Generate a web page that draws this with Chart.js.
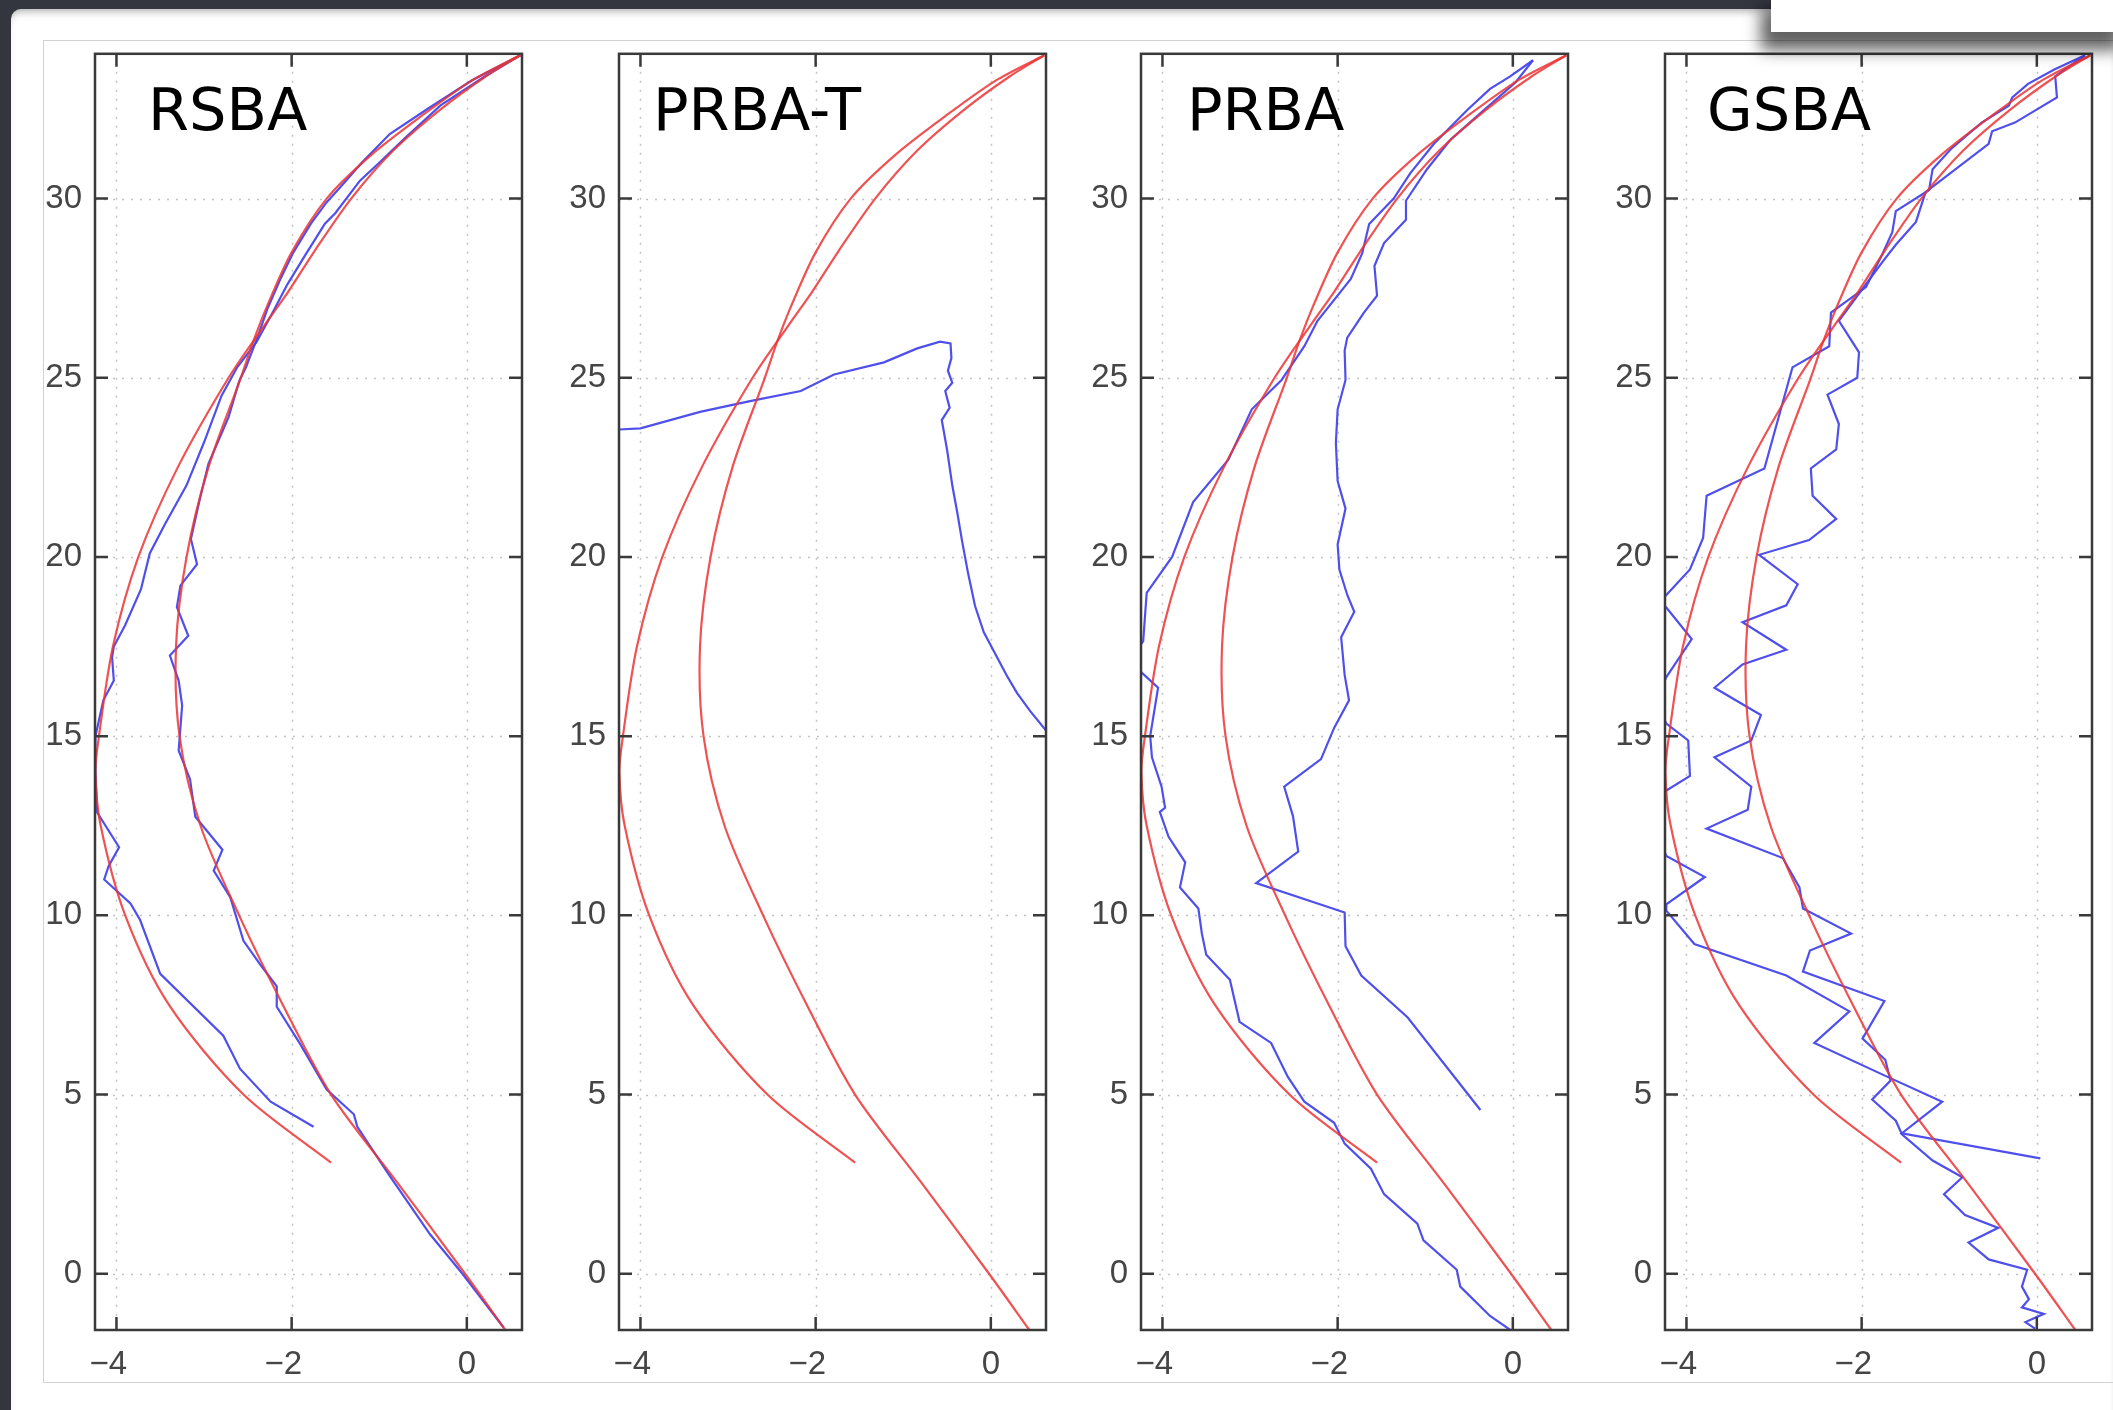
<!DOCTYPE html>
<html>
<head>
<meta charset="utf-8">
<script src="https://cdn.jsdelivr.net/npm/chart.js@4.4.1/dist/chart.umd.min.js"></script>
<style>
  html, body { margin: 0; padding: 0; }
  body { width: 2113px; height: 1410px; background: #33363e; position: relative; overflow: hidden; }
  #slide { position: absolute; left: 11px; top: 9px; right: 0; bottom: 0; background: #fff;
           border-top-left-radius: 10px; box-shadow: inset 0 7px 8px -5px rgba(0,0,0,0.35); }
  #frame { position: absolute; left: 43px; top: 40px; width: 2075px; height: 1343px;
           border: 1px solid #d2d2d2; box-sizing: border-box; }
  .panel { position: absolute; top: 21px; }
  #popup { position: absolute; left: 1771px; top: -10px; width: 360px; height: 42px; background: #fff;
           box-shadow: -10px 18px 16px rgba(0,0,0,0.62); z-index: 5; }
</style>
</head>
<body>
<div id="slide"></div>
<div id="frame"></div>
<canvas id="c0" class="panel" width="527" height="1379" style="left:15px"></canvas>
<canvas id="c1" class="panel" width="527" height="1379" style="left:539px"></canvas>
<canvas id="c2" class="panel" width="527" height="1379" style="left:1061px"></canvas>
<canvas id="c3" class="panel" width="527" height="1379" style="left:1585px"></canvas>
<div id="popup"></div>
<script>
// axes
const xTicks = [-4, -2, 0];
const yTicks = [0, 5, 10, 15, 20, 25, 30];
const xLimits = [-4.245, 0.63];
const yLimits = [-1.57, 34.04];

const panelTitles = ['RSBA', 'PRBA-T', 'PRBA', 'GSBA'];

// model curves (same in every panel)
const redInnerY = [34, 33.3, 32.3, 31.2, 30, 28.5, 27, 26, 25, 22.5, 20, 17.5, 15, 12.5, 10, 7.5, 5, 2.5, 0, -1.57];
const redInnerX = [0.61, 0.06, -0.52, -1.1, -1.6, -2.0, -2.28, -2.44, -2.58, -2.95, -3.2, -3.32, -3.28, -3.04, -2.6, -2.1, -1.55, -0.78, -0.02, 0.44];
const redOuterY = [34, 33.4, 32.47, 31.34, 30, 28.53, 27.4, 26.5, 25, 22.5, 20, 17.5, 15, 14, 12.5, 10, 7.5, 5, 3.1];
const redOuterX = [0.61, 0.21, -0.31, -0.84, -1.32, -1.74, -2.04, -2.3, -2.72, -3.3, -3.75, -4.04, -4.2, -4.24, -4.18, -3.9, -3.4, -2.55, -1.55];

// RSBA measured
const rsbaBlue1X = [0.61, 0.06, -0.45, -0.88, -1.2, -1.45, -1.6, -1.78, -1.98, -2.12, -2.28, -2.38, -2.52, -2.6, -2.72, -2.95, -3.05, -3.15, -3.08, -3.27, -3.31, -3.18, -3.39, -3.29, -3.25, -3.29, -3.16, -3.1, -2.79, -2.89, -2.7, -2.55, -2.35, -2.17, -2.17, -1.9, -1.6, -1.29, -1.25, -0.9, -0.42, -0.05, 0.42];
const rsbaBlue1Y = [34, 33.3, 32.5, 31.8, 31.0, 30.3, 29.9, 29.3, 28.5, 27.8, 26.9, 26.2, 25.3, 24.9, 23.9, 22.6, 21.6, 20.5, 19.8, 19.2, 18.6, 17.8, 17.25, 16.55, 15.86, 14.6, 13.8, 12.75, 11.83, 11.25, 10.5, 9.29, 8.6, 8.02, 7.45, 6.4, 5.14, 4.45, 4.1, 2.8, 1.1, 0.0, -1.5];
const rsbaBlue2X = [0.61, 0.2, -0.3, -0.7, -1.0, -1.22, -1.5, -1.62, -1.85, -2.05, -2.2, -2.4, -2.62, -2.8, -3.0, -3.2, -3.45, -3.62, -3.72, -3.9, -4.03, -4.05, -4.03, -4.15, -4.24, -4.24, -4.22, -3.97, -4.09, -4.14, -3.84, -3.73, -3.5, -2.78, -2.59, -2.24, -1.75];
const rsbaBlue2Y = [34, 33.4, 32.6, 31.7, 31.0, 30.5, 29.6, 29.3, 28.4, 27.6, 26.9, 26.0, 25.3, 24.5, 23.2, 22.0, 20.9, 20.1, 19.1, 18.1, 17.5, 17.2, 16.55, 16.0, 15.0, 14.0, 12.87, 11.9, 11.37, 11.0, 10.33, 9.87, 8.37, 6.64, 5.72, 4.8, 4.1];

// PRBA-T measured
const prbaTBlueX = [-4.3, -4.0, -3.32, -2.75, -2.17, -1.79, -1.22, -0.84, -0.58, -0.46, -0.45, -0.49, -0.44, -0.52, -0.47, -0.56, -0.5, -0.44, -0.38, -0.33, -0.26, -0.18, -0.08, 0.05, 0.18, 0.3, 0.45, 0.65];
const prbaTBlueY = [23.55, 23.59, 24.05, 24.35, 24.63, 25.09, 25.43, 25.82, 26.01, 25.96, 25.55, 25.2, 24.86, 24.63, 24.16, 23.82, 23.0, 22.0, 21.2, 20.47, 19.55, 18.63, 17.9, 17.3, 16.7, 16.2, 15.7, 15.1];

// PRBA measured
const prbaBlue1X = [0.23, -0.03, -0.26, -0.52, -0.9, -1.17, -1.36, -1.64, -1.72, -1.85, -2.23, -2.38, -2.64, -2.98, -3.25, -3.65, -3.89, -4.18, -4.22, -4.35, -4.25, -4.05, -4.14, -4.12, -4.01, -3.97, -4.03, -3.93, -3.74, -3.8, -3.59, -3.55, -3.5, -3.23, -3.12, -2.76, -2.57, -2.38, -2.04, -1.92, -1.62, -1.47, -1.09, -1.02, -0.64, -0.6, -0.26, -0.01];
const prbaBlue1Y = [33.86, 33.41, 33.06, 32.47, 31.53, 30.71, 30.0, 29.29, 28.47, 27.76, 26.59, 25.88, 24.94, 24.12, 22.71, 21.53, 20.0, 19.0, 17.65, 17.2, 16.8, 16.35, 15.0, 14.41, 13.59, 13.0, 12.89, 12.19, 11.48, 10.78, 10.19, 9.49, 8.9, 8.2, 7.03, 6.44, 5.5, 4.8, 4.21, 3.63, 2.93, 2.22, 1.4, 0.93, 0.11, -0.36, -1.18, -1.6];
const prbaBlue2X = [0.23, 0.03, -0.33, -0.71, -0.98, -1.22, -1.22, -1.47, -1.58, -1.55, -1.7, -1.89, -1.92, -1.91, -2.0, -2.02, -2.0, -1.91, -2.0, -1.98, -1.89, -1.81, -1.96, -1.92, -1.87, -2.04, -2.19, -2.61, -2.51, -2.45, -2.93, -1.92, -1.91, -1.73, -1.2, -0.37];
const prbaBlue2Y = [33.86, 33.24, 32.47, 31.65, 30.82, 29.94, 29.41, 28.76, 28.12, 27.29, 26.82, 26.12, 25.76, 24.94, 24.12, 23.18, 22.12, 21.35, 20.35, 19.65, 18.94, 18.47, 17.76, 16.71, 16.0, 15.23, 14.36, 13.59, 12.77, 11.78, 10.9, 10.08, 9.14, 8.32, 7.15, 4.57];

// GSBA measured
const gsbaBlue1X = [0.55, 0.2, -0.1, -0.28, -0.32, -0.63, -0.97, -1.19, -1.23, -1.61, -1.65, -1.76, -1.95, -2.35, -2.37, -2.79, -3.11, -3.77, -3.81, -3.96, -4.23, -4.3, -4.23, -3.94, -4.23, -4.35, -4.23, -3.98, -3.96, -4.23, -4.4, -4.23, -3.79, -4.23, -4.23, -3.91, -2.86, -2.14, -2.54, -1.71, -1.08, -1.54, 0.04];
const gsbaBlue1Y = [34.0, 33.6, 33.2, 32.82, 32.59, 32.12, 31.41, 30.82, 30.24, 29.65, 29.06, 28.47, 27.53, 26.82, 25.88, 25.29, 22.47, 21.71, 20.53, 19.65, 18.94, 18.75, 18.59, 17.71, 16.65, 16.0, 15.35, 14.88, 13.89, 13.48, 12.6, 11.66, 11.07, 10.31, 10.13, 9.2, 8.32, 7.32, 6.44, 5.5, 4.8, 3.92, 3.22];
const gsbaBlue2X = [0.55, 0.21, 0.23, -0.25, -0.51, -0.55, -1.27, -1.38, -1.61, -1.76, -2.26, -2.03, -2.05, -2.39, -2.26, -2.29, -2.58, -2.56, -2.29, -2.6, -3.17, -2.73, -2.86, -3.36, -2.86, -3.36, -3.68, -3.15, -3.26, -3.68, -3.26, -3.3, -3.77, -2.9, -2.71, -2.67, -2.12, -2.59, -2.67, -1.74, -1.99, -1.73, -1.67, -1.88, -1.61, -1.54, -1.19, -0.85, -1.06, -0.82, -0.44, -0.78, -0.55, -0.11, -0.17, -0.09, -0.17, 0.08, -0.13, -0.02];
const gsbaBlue2Y = [34.0, 33.41, 32.82, 32.12, 31.88, 31.53, 30.18, 29.35, 28.71, 28.24, 26.59, 25.71, 25.0, 24.53, 23.71, 23.0, 22.47, 21.71, 21.06, 20.47, 20.06, 19.24, 18.65, 18.18, 17.41, 17.0, 16.35, 15.59, 14.88, 14.41, 13.59, 12.95, 12.42, 11.6, 10.78, 10.19, 9.49, 9.02, 8.43, 7.61, 6.56, 5.97, 5.39, 4.86, 4.27, 3.89, 3.16, 2.69, 2.22, 1.64, 1.28, 0.87, 0.4, 0.11, -0.36, -0.71, -0.94, -1.12, -1.35, -1.53];

const panelBlues = [
  [[rsbaBlue1X, rsbaBlue1Y], [rsbaBlue2X, rsbaBlue2Y]],
  [[prbaTBlueX, prbaTBlueY]],
  [[prbaBlue1X, prbaBlue1Y], [prbaBlue2X, prbaBlue2Y]],
  [[gsbaBlue1X, gsbaBlue1Y], [gsbaBlue2X, gsbaBlue2Y]]
];
const titleShift = [53, 34, 46, 42];

const RED = 'rgba(236, 52, 52, 0.85)';
const BLUE = 'rgba(70, 70, 235, 0.95)';

function toPoints(xs, ys) {
  return xs.map((x, i) => ({x: x, y: ys[i]}));
}

// MATLAB style box: dotted grid, inner ticks on all sides, panel label
const matlabAxes = {
  id: 'matlabAxes',
  beforeDatasetsDraw(chart) {
    const {ctx, chartArea: a, scales: {x, y}} = chart;
    ctx.save();
    ctx.strokeStyle = '#c2c2c2';
    ctx.lineWidth = 1.5;
    ctx.setLineDash([2, 7]);
    xTicks.forEach(v => {
      const px = Math.round(x.getPixelForValue(v)) + 0.5;
      ctx.beginPath(); ctx.moveTo(px, a.top); ctx.lineTo(px, a.bottom); ctx.stroke();
    });
    yTicks.forEach(v => {
      const py = Math.round(y.getPixelForValue(v)) + 0.5;
      ctx.beginPath(); ctx.moveTo(a.left, py); ctx.lineTo(a.right, py); ctx.stroke();
    });
    ctx.restore();
  },
  afterDatasetsDraw(chart, args, opts) {
    const {ctx, chartArea: a, scales: {x, y}} = chart;
    ctx.save();
    ctx.strokeStyle = '#3a3a3a';
    ctx.lineWidth = 2.5;
    ctx.strokeRect(a.left, a.top, a.right - a.left, a.bottom - a.top);
    const tl = 13;
    ctx.beginPath();
    xTicks.forEach(v => {
      const px = x.getPixelForValue(v);
      ctx.moveTo(px, a.top); ctx.lineTo(px, a.top + tl);
      ctx.moveTo(px, a.bottom); ctx.lineTo(px, a.bottom - tl);
    });
    yTicks.forEach(v => {
      const py = y.getPixelForValue(v);
      ctx.moveTo(a.left, py); ctx.lineTo(a.left + tl, py);
      ctx.moveTo(a.right, py); ctx.lineTo(a.right - tl, py);
    });
    ctx.stroke();
    ctx.fillStyle = '#000';
    ctx.font = '59px "DejaVu Sans"';
    ctx.textBaseline = 'alphabetic';
    ctx.fillText(opts.title, a.left + opts.dx, a.top + 76);
    ctx.restore();
  }
};

const tickFont = {family: '"Liberation Sans", Arial, sans-serif', size: 33};

panelTitles.forEach((title, p) => {
  const datasets = [
    {data: toPoints(redInnerX, redInnerY), borderColor: RED, tension: 0.3},
    {data: toPoints(redOuterX, redOuterY), borderColor: RED, tension: 0.3}
  ];
  panelBlues[p].forEach(b => {
    datasets.push({data: toPoints(b[0], b[1]), borderColor: BLUE, tension: 0});
  });
  datasets.forEach(d => {
    d.showLine = true; d.pointRadius = 0; d.borderWidth = 2.2; d.fill = false;
  });

  new Chart(document.getElementById('c' + p), {
    type: 'scatter',
    data: {datasets: datasets},
    options: {
      responsive: false,
      animation: false,
      devicePixelRatio: 1,
      layout: {padding: {top: 20, right: 20, left: 0, bottom: 0}},
      plugins: {
        legend: {display: false},
        tooltip: {enabled: false},
        matlabAxes: {title: title, dx: titleShift[p]}
      },
      scales: {
        x: {
          type: 'linear', min: xLimits[0], max: xLimits[1],
          afterBuildTicks: s => { s.ticks = xTicks.map(v => ({value: v})); },
          afterFit: s => { s.height = 70; },
          grid: {display: false, drawTicks: false},
          border: {display: false},
          ticks: {
            font: tickFont, color: '#454545', padding: 15, maxRotation: 0, autoSkip: false,
            callback: v => v < 0 ? '\u2212' + Math.abs(v) + '\u2002' : String(v)
          }
        },
        y: {
          type: 'linear', min: yLimits[0], max: yLimits[1],
          afterBuildTicks: s => { s.ticks = yTicks.map(v => ({value: v})); },
          afterFit: s => { s.width = 80; },
          grid: {display: false, drawTicks: false},
          border: {display: false},
          ticks: {font: tickFont, color: '#454545', padding: 13, autoSkip: false, callback: v => String(v)}
        }
      }
    },
    plugins: [matlabAxes]
  });
});
</script>
</body>
</html>
